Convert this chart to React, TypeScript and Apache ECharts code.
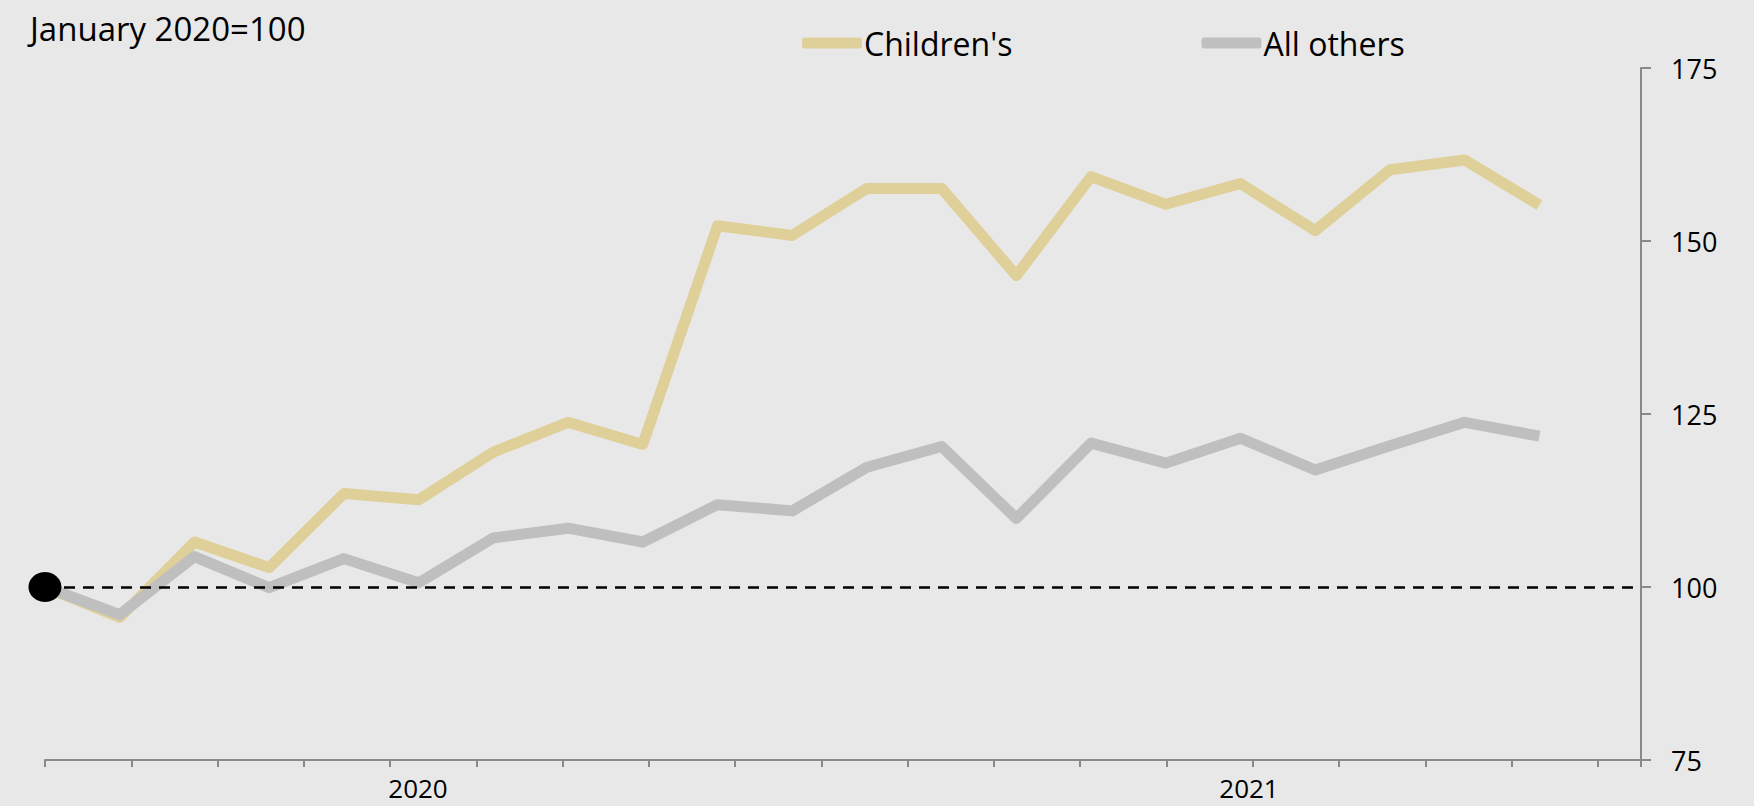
import React, { useEffect, useRef } from "react";
import * as echarts from "echarts";

const months = [
  "2020-01", "2020-02", "2020-03", "2020-04", "2020-05", "2020-06", "2020-07",
  "2020-08", "2020-09", "2020-10", "2020-11", "2020-12", "2021-01", "2021-02",
  "2021-03", "2021-04", "2021-05", "2021-06", "2021-07", "2021-08", "2021-09",
];
const childrens = [
  100, 95.6, 106.5, 102.8, 113.5, 112.6, 119.5, 123.8, 120.6, 152.2, 150.8,
  157.6, 157.6, 145.0, 159.3, 155.3, 158.3, 151.5, 160.3, 161.7, 155.2,
];
const allOthers = [
  100, 96.0, 104.4, 99.9, 104.1, 100.6, 107.1, 108.5, 106.5, 111.9, 111.0,
  117.3, 120.3, 109.9, 120.8, 117.9, 121.5, 116.9, 120.4, 123.8, 121.8,
];
const seriesNames = ["Children's", "All others"];
const yTicks = { min: 75, max: 175, step: 25 };
const yearLabels = ["2020", "2021"];
const baseLabel = "January 2020=100";

const FONT = "'Open Sans', 'Noto Sans', sans-serif";

export default function App() {
  const ref = useRef<HTMLDivElement>(null);
  useEffect(() => {
    document.body.style.margin = "0";
    const chart = echarts.init(ref.current!, undefined, { renderer: "svg" });
    const toPairs = (arr: number[]) => arr.map((v, i) => [months.indexOf(months[i]), v]);
    chart.setOption({
      animation: false,
      backgroundColor: "#e8e8e8",
      textStyle: { fontFamily: FONT },
      grid: { left: 45, right: 113, top: 68, bottom: 46, containLabel: false },
      legend: {
        left: 797,
        top: 22,
        itemWidth: 60,
        itemHeight: 11,
        itemGap: 189,
        icon: "roundRect",
        textStyle: { fontSize: 32, color: "#000", fontFamily: FONT, padding: [0, 0, 0, -3] },
        data: seriesNames,
      },
      xAxis: [
        {
          type: "value",
          min: 0,
          max: 18.5,
          interval: 1,
          axisLine: { show: true, onZero: false, lineStyle: { color: "#898989", width: 2 } },
          axisTick: { show: true, length: 7, lineStyle: { color: "#898989", width: 2 } },
          axisLabel: { show: false },
          splitLine: { show: false },
        },
        {
          type: "value",
          min: 0,
          max: 21.36,
          show: false,
          axisLine: { onZero: false },
          splitLine: { show: false },
        },
      ],
      yAxis: {
        type: "value",
        position: "right",
        min: yTicks.min,
        max: yTicks.max,
        interval: yTicks.step,
        axisLine: { show: true, onZero: false, lineStyle: { color: "#898989", width: 2 } },
        axisTick: { show: true, length: 10, lineStyle: { color: "#898989", width: 2 } },
        axisLabel: { margin: 30, fontSize: 27, color: "#000", fontFamily: FONT },
        splitLine: { show: false },
      },
      graphic: [
        {
          type: "text",
          left: 30,
          top: 12,
          style: { text: baseLabel, fontSize: 33, fill: "#000", fontFamily: FONT },
        },
        {
          type: "text",
          x: 418,
          y: 788,
          style: {
            text: yearLabels[0], fontSize: 26, fill: "#000", fontFamily: FONT,
            align: "center", verticalAlign: "middle",
          },
        },
        {
          type: "text",
          x: 1249,
          y: 788,
          style: {
            text: yearLabels[1], fontSize: 26, fill: "#000", fontFamily: FONT,
            align: "center", verticalAlign: "middle",
          },
        },
      ],
      series: [
        {
          name: seriesNames[0],
          type: "line",
          xAxisIndex: 1,
          color: "#dfd099",
          symbol: "none",
          lineStyle: { width: 11, color: "#dfd099", cap: "butt", join: "round" },
          data: toPairs(childrens),
          z: 2,
        },
        {
          name: seriesNames[1],
          type: "line",
          xAxisIndex: 1,
          color: "#bfbfbf",
          symbol: "none",
          lineStyle: { width: 11, color: "#bfbfbf", cap: "butt", join: "round" },
          data: toPairs(allOthers),
          z: 3,
        },
        {
          name: "base",
          type: "scatter",
          xAxisIndex: 1,
          symbol: "circle",
          symbolSize: [33, 30],
          itemStyle: { color: "#000", opacity: 1 },
          data: [[0, childrens[0]]],
          z: 5,
          markLine: {
            silent: true,
            symbol: "none",
            label: { show: false },
            lineStyle: { color: "#000", width: 2.5, type: [11, 8], opacity: 1 },
            data: [{ yAxis: childrens[0] }],
          },
        },
      ],
    });
    return () => chart.dispose();
  }, []);
  return (
    <div
      ref={ref}
      style={{ position: "absolute", left: 0, top: 0, width: 1754, height: 806 }}
    />
  );
}
